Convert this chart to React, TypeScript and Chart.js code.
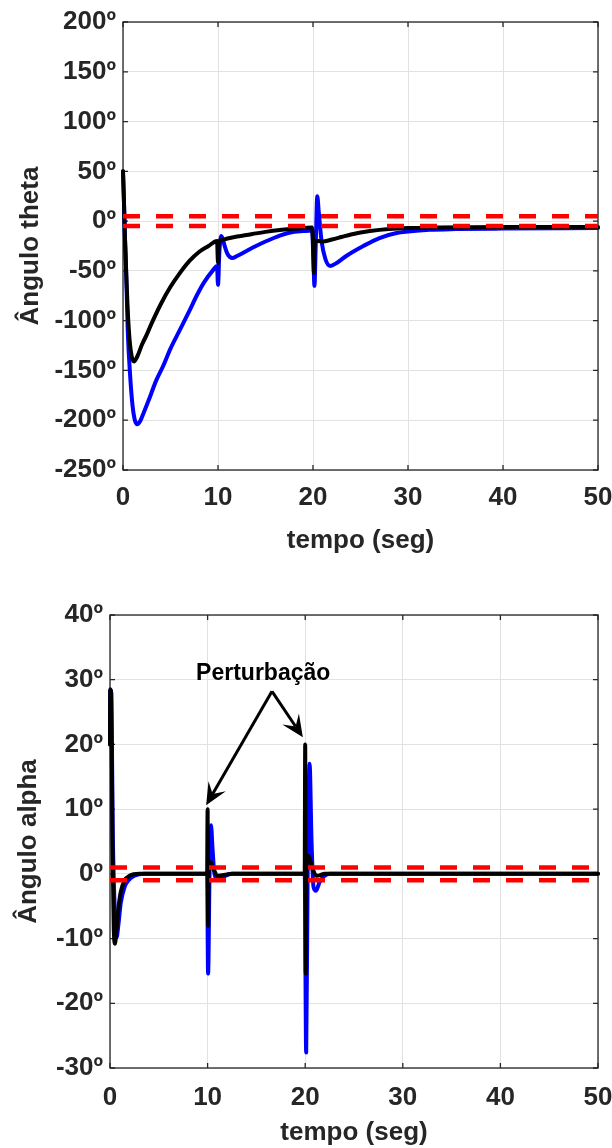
import React, { useEffect, useRef } from "react";
import { Chart, registerables } from "chart.js";

Chart.register(...registerables);

// ---------- DATA ----------
// Top chart: "Ângulo theta"
const thetaBlueT = [0, 0.1, 0.2, 0.3, 0.5, 0.75, 1.0, 1.25, 1.5, 1.8, 2.2, 2.7, 3.5, 4.25, 5.0, 6.0, 7.0, 7.75, 8.5, 9.5, 9.9, 10.0, 10.15, 10.35, 10.7, 11.0, 11.5, 12, 13, 14, 15, 16.5, 17.6, 19.0, 19.9, 20.05, 20.15, 20.3, 20.45, 20.6, 20.9, 21.3, 21.8, 22.5, 23.5, 25.3, 27, 28.8, 30, 32.3, 35, 40, 50];
const thetaBlueV = [50, 20, -15, -40, -110, -155, -185, -200, -204, -201, -192, -180, -160, -145, -128, -109, -90, -75, -62, -49, -45, -64, -30, -15, -25, -33, -37, -35, -30, -25, -20.5, -14.5, -11.4, -10, -9.4, -40, -65, -20, 25, 10, -20, -38, -45, -42, -35, -25, -17, -12, -10.5, -8.7, -8, -7.5, -7];
const thetaBlackT = [0, 0.1, 0.2, 0.35, 0.5, 0.7, 0.9, 1.15, 1.5, 2.0, 2.5, 3.0, 4.0, 5.0, 6.0, 7.0, 8.0, 9.0, 9.9, 10.0, 10.1, 10.4, 11, 12, 13, 14, 15, 16.5, 18, 19.9, 20.0, 20.1, 20.2, 20.5, 21, 22, 23, 24, 25, 26, 28, 30, 33, 40, 50];
const thetaBlackV = [50, 20, -15, -55, -90, -120, -135, -141, -136, -124, -114, -103, -83, -66, -52, -40, -31, -25, -20, -42, -20, -19, -17.5, -15.5, -14, -12.3, -10.8, -9, -7.8, -6.5, -20, -52, -20, -20, -20.5, -18.5, -16, -13.5, -11.5, -10, -8, -7, -6.5, -6, -6];
const thetaBand = 5;
const thetaTicks = [-250, -200, -150, -100, -50, 0, 50, 100, 150, 200];

// Bottom chart: "Ângulo alpha"
const alphaBlueT = [0, 0.02, 0.12, 0.3, 0.5, 0.68, 0.85, 1.1, 1.5, 1.9, 2.5, 3.5, 9.95, 10.05, 10.2, 10.35, 10.5, 10.7, 11.0, 11.5, 12.5, 19.95, 20.1, 20.25, 20.45, 20.65, 20.85, 21.1, 21.5, 22.5, 50];
const alphaBlueV = [20, 28.5, 28, 5, -6, -9.8, -8, -4.5, -2, -1.0, -0.3, 0, 0, -15.4, 0, 7.5, 4, 0, -0.8, -0.5, 0, 0, -27.6, 0, 17, 5, -2, -2.6, -1.2, 0, 0];
const alphaBlackT = [0, 0.02, 0.12, 0.25, 0.38, 0.5, 0.65, 0.85, 1.1, 1.5, 2.0, 3.0, 9.95, 10.0, 10.05, 10.1, 10.3, 10.6, 11, 11.5, 12.5, 19.95, 20.0, 20.05, 20.12, 20.35, 20.7, 21.2, 22, 50];
const alphaBlackV = [20, 28.5, 28, 5, -8, -10.8, -9, -5.5, -2.8, -1.0, -0.3, 0, 0, 10, -8, 0, 1.8, 0.8, -0.3, -0.2, 0, 0, 20, -15.4, 0, 2.8, 1.0, -0.3, 0, 0];
const alphaBand = 1;
const alphaTicks = [-30, -20, -10, 0, 10, 20, 30, 40];

const timeTicks = [0, 10, 20, 30, 40, 50];

// annotation (data coordinates of the bottom chart)
const noteText = "Perturbação";
const noteAt = [15.7, 31];
const arrowFrom = [16.6, 28.2];
const arrowTipT = [9.85, 19.76];
const arrowTipV = [10.6, 21.1];

// ---------- HELPERS ----------
const FONT = "'Liberation Sans', Arial, Helvetica, sans-serif";
const TXT = "#262626";

const pts = (t: number[], v: number[]) => t.map((x, i) => ({ x, y: v[i] }));

const boxPlugin = {
  id: "boxTicks",
  beforeDatasetsDraw(chart: any) {
    const { ctx, chartArea, scales } = chart;
    const { left, right, top, bottom } = chartArea;
    ctx.save();
    ctx.strokeStyle = TXT;
    ctx.lineWidth = 1.3;
    ctx.strokeRect(left, top, right - left, bottom - top);
    const L = 5;
    ctx.beginPath();
    scales.x.ticks.forEach((t: any) => {
      const px = scales.x.getPixelForValue(t.value);
      ctx.moveTo(px, bottom); ctx.lineTo(px, bottom - L);
      ctx.moveTo(px, top); ctx.lineTo(px, top + L);
    });
    scales.y.ticks.forEach((t: any) => {
      const py = scales.y.getPixelForValue(t.value);
      ctx.moveTo(left, py); ctx.lineTo(left + L, py);
      ctx.moveTo(right, py); ctx.lineTo(right - L, py);
    });
    ctx.stroke();
    ctx.restore();
  },
};

const annotationPlugin = {
  id: "perturb",
  afterDatasetsDraw(chart: any) {
    if (!chart.options.plugins.perturb?.show) return;
    const { ctx, scales } = chart;
    const x = scales.x, y = scales.y;
    ctx.save();
    ctx.fillStyle = "#000";
    ctx.font = `bold 23px ${FONT}`;
    ctx.textAlign = "center";
    ctx.textBaseline = "middle";
    ctx.fillText(noteText, x.getPixelForValue(noteAt[0]), y.getPixelForValue(noteAt[1]));
    const fx = x.getPixelForValue(arrowFrom[0]);
    const fy = y.getPixelForValue(arrowFrom[1]);
    arrowTipT.forEach((tt, i) => {
      const tx = x.getPixelForValue(tt);
      const ty = y.getPixelForValue(arrowTipV[i]);
      const dx = tx - fx, dy = ty - fy;
      const len = Math.hypot(dx, dy);
      const ux = dx / len, uy = dy / len;
      const px = -uy, py = ux;
      const HL = 22, HW = 10, NB = 13;
      ctx.strokeStyle = "#000";
      ctx.lineWidth = 3;
      ctx.beginPath();
      ctx.moveTo(fx, fy);
      ctx.lineTo(tx - ux * NB, ty - uy * NB);
      ctx.stroke();
      ctx.beginPath();
      ctx.moveTo(tx, ty);
      ctx.lineTo(tx - ux * HL + px * HW, ty - uy * HL + py * HW);
      ctx.lineTo(tx - ux * NB, ty - uy * NB);
      ctx.lineTo(tx - ux * HL - px * HW, ty - uy * HL - py * HW);
      ctx.closePath();
      ctx.fill();
    });
    ctx.restore();
  },
};

interface Spec {
  blueT: number[]; blueV: number[]; blackT: number[]; blackV: number[];
  band: number; yTicks: number[]; yTitle: string;
  yWidth: number; xHeight: number; padTop: number;
  xTitlePad: number; yTitlePad: number; xTickPad: number; note: boolean;
}

function makeConfig(s: Spec): any {
  const yMin = s.yTicks[0], yMax = s.yTicks[s.yTicks.length - 1];
  const tMin = timeTicks[0], tMax = timeTicks[timeTicks.length - 1];
  const lineDs = (data: any, color: string) => ({
    data, borderColor: color, backgroundColor: color, borderWidth: 4,
    pointRadius: 0, showLine: true, fill: false, clip: false,
    cubicInterpolationMode: "monotone", borderCapStyle: "round", borderJoinStyle: "round",
  });
  const bandDs = (v: number) => ({
    data: [{ x: tMin, y: v }, { x: tMax, y: v }], borderColor: "#ff0000", borderWidth: 4.5,
    borderDash: [17, 16], pointRadius: 0, showLine: true, fill: false, clip: false,
  });
  return {
    type: "scatter",
    data: {
      datasets: [
        bandDs(s.band), bandDs(-s.band),
        lineDs(pts(s.blackT, s.blackV), "#000000"),
        lineDs(pts(s.blueT, s.blueV), "#0000ff"),
      ],
    },
    plugins: [boxPlugin, annotationPlugin],
    options: {
      animation: false, responsive: false, events: [],
      layout: { padding: { top: s.padTop, right: 14, bottom: 0, left: 0 } },
      plugins: { legend: { display: false }, tooltip: { enabled: false }, perturb: { show: s.note } },
      scales: {
        x: {
          type: "linear", min: tMin, max: tMax,
          afterBuildTicks: (sc: any) => { sc.ticks = timeTicks.map((v) => ({ value: v })); },
          afterFit: (sc: any) => { sc.height = s.xHeight; sc.paddingLeft = 0; sc.paddingRight = 0; },
          grid: { color: "#e2e2e2", lineWidth: 1, drawTicks: false },
          border: { display: false },
          ticks: { color: TXT, padding: s.xTickPad, font: { family: FONT, size: 26, weight: "bold" }, maxRotation: 0 },
          title: { display: true, text: "tempo (seg)", color: TXT, padding: { top: 0, bottom: s.xTitlePad }, font: { family: FONT, size: 26, weight: "bold" } },
        },
        y: {
          type: "linear", min: yMin, max: yMax,
          afterBuildTicks: (sc: any) => { sc.ticks = s.yTicks.map((v) => ({ value: v })); },
          afterFit: (sc: any) => { sc.width = s.yWidth; sc.paddingTop = 0; sc.paddingBottom = 0; },
          grid: { color: "#e2e2e2", lineWidth: 1, drawTicks: false },
          border: { display: false },
          ticks: { color: TXT, padding: 7, font: { family: FONT, size: 26, weight: "bold" }, callback: (v: number) => `${v}º` },
          title: { display: true, text: s.yTitle, color: TXT, padding: { top: s.yTitlePad, bottom: 0 }, font: { family: FONT, size: 26, weight: "bold" } },
        },
      },
    },
  };
}

function ChartBox({ spec, top }: { spec: Spec; top: number }) {
  const ref = useRef<HTMLCanvasElement>(null);
  useEffect(() => {
    if (!ref.current) return;
    const chart = new Chart(ref.current, makeConfig(spec));
    return () => chart.destroy();
  }, []);
  return (
    <canvas ref={ref} width={612} height={574}
      style={{ position: "absolute", left: 0, top, width: 612, height: 574 }} />
  );
}

export default function App() {
  const thetaSpec: Spec = {
    blueT: thetaBlueT, blueV: thetaBlueV, blackT: thetaBlackT, blackV: thetaBlackV,
    band: thetaBand, yTicks: thetaTicks, yTitle: "Ângulo theta",
    yWidth: 123, xHeight: 104, padTop: 22, xTitlePad: 18, yTitlePad: 15, xTickPad: 12, note: false,
  };
  const alphaSpec: Spec = {
    blueT: alphaBlueT, blueV: alphaBlueV, blackT: alphaBlackT, blackV: alphaBlackV,
    band: alphaBand, yTicks: alphaTicks, yTitle: "Ângulo alpha",
    yWidth: 110, xHeight: 80, padTop: 41, xTitlePad: 0, yTitlePad: 13, xTickPad: 14, note: true,
  };
  return (
    <div style={{ position: "absolute", left: 0, top: 0, width: 612, height: 1148, background: "#fff" }}>
      <ChartBox spec={thetaSpec} top={0} />
      <ChartBox spec={alphaSpec} top={574} />
    </div>
  );
}
